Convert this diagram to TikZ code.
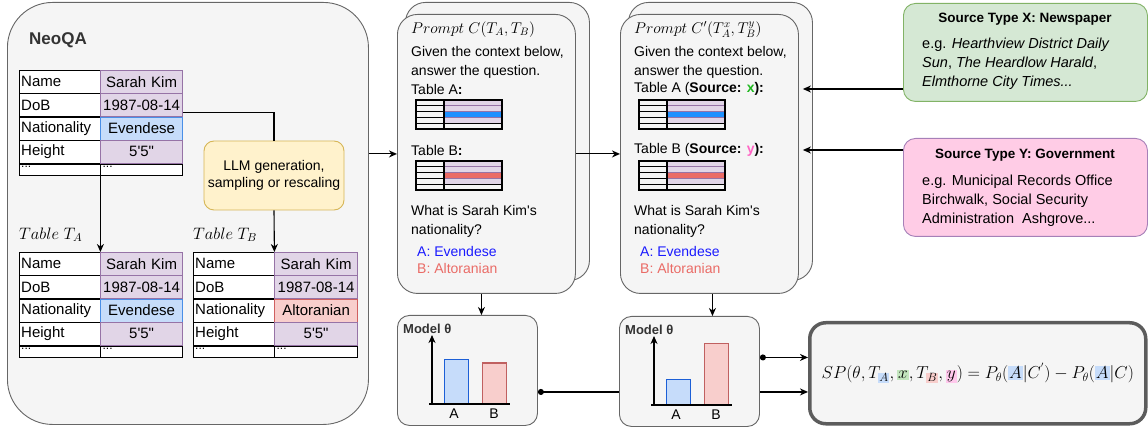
\documentclass[tikz,border=0pt]{standalone}
\usepackage{graphicx}
\usepackage{fontspec}
\setmainfont{Liberation Sans}
\usetikzlibrary{positioning, arrows.meta, calc}
\pgfdeclarelayer{background}
\pgfsetlayers{background,main}

\definecolor{boxgray}{HTML}{F5F5F5}
\definecolor{linegray}{HTML}{666666}
\definecolor{purpfill}{HTML}{E1D5E7}
\definecolor{purpline}{HTML}{9673A6}
\definecolor{bluefill}{HTML}{C6DCFA}
\definecolor{blueline}{HTML}{4A8FE7}
\definecolor{redfill}{HTML}{F8CECC}
\definecolor{redline}{HTML}{D06060}
\definecolor{llmfill}{HTML}{FFF2CC}
\definecolor{llmline}{HTML}{D6B656}
\definecolor{xfill}{HTML}{D5E8D4}
\definecolor{xline}{HTML}{82B366}
\definecolor{yfill}{HTML}{FFCCE6}
\definecolor{yline}{HTML}{A680B8}
\definecolor{hlblue}{HTML}{1E90FF}
\definecolor{hlred}{HTML}{EA6B66}
\definecolor{ansA}{HTML}{1A1AFF}
\definecolor{ansB}{HTML}{EA6B66}
\definecolor{xgreen}{HTML}{22B822}
\definecolor{ypink}{HTML}{FF66C4}
\definecolor{hlgreen}{HTML}{C3E6BE}
\definecolor{hlpink}{HTML}{FFC8EC}
\definecolor{barAline}{HTML}{1C5FD6}
\definecolor{barBline}{HTML}{C06060}

\tikzset{>={Stealth[length=8pt, width=7pt, inset=2.5pt]},
  link/.style={line width=1.1pt},
  neobox/.style={rectangle, rounded corners=45pt, draw=linegray, fill=boxgray, line width=0.9pt},
  card/.style={rectangle, rounded corners=20pt, draw=linegray, fill=boxgray, line width=0.9pt, inner sep=0pt},
  modelnode/.style={rectangle, rounded corners=12pt, draw=linegray, fill=boxgray, line width=0.9pt,
    minimum width=140pt, minimum height=110pt, inner sep=0pt},
  srcbox/.style={rectangle, rounded corners=12pt, line width=0.9pt, minimum width=244pt, minimum height=98pt},
  fbox/.style={rectangle, rounded corners=16pt, draw=linegray!90!black, fill=boxgray, line width=3.5pt,
    minimum width=336pt, minimum height=101pt, font=\fontsize{16.5}{20}\selectfont},
  llm/.style={rectangle, rounded corners=10pt, draw=llmline, fill=llmfill, line width=0.9pt,
    minimum width=140pt, minimum height=69pt, align=center, font=\fontsize{14}{17}\selectfont},
  keycell/.style={rectangle, draw, fill=white, minimum height=23pt, inner xsep=2pt, inner ysep=0pt,
    text width=77pt, align=left, font=\fontsize{15}{18}\selectfont},
  valcell/.style={rectangle, draw=purpline, fill=purpfill, minimum height=23pt, inner xsep=2pt, inner ysep=0pt,
    align=center, font=\fontsize{15}{18}\selectfont},
  bluecell/.style={valcell, draw=blueline, fill=bluefill},
  redcell/.style={valcell, draw=redline, fill=redfill},
  dotcell/.style={draw=black, fill=white, minimum height=11pt, text height=0pt, text depth=4pt,
    align=left, font=\fontsize{12}{12}\selectfont},
  neotitle/.style={inner sep=0pt, text=black!80, font=\fontsize{17}{20}\selectfont\bfseries},
  mathlabel/.style={inner sep=0pt, font=\fontsize{14.4}{18}\selectfont},
  cardtitle/.style={inner sep=0pt, font=\fontsize{14.4}{18}\selectfont},
  cardtext/.style={inner sep=0pt, align=left, font=\fontsize{14}{19}\selectfont},
  modeltitle/.style={inner sep=0pt, text=black!80, font=\fontsize{13}{15}\selectfont\bfseries},
  barlabel/.style={inner sep=0pt, font=\fontsize{14}{16}\selectfont},
  srctitle/.style={inner sep=0pt, font=\fontsize{13.5}{16}\selectfont\bfseries},
  srctext/.style={inner sep=0pt, align=left, font=\fontsize{14.5}{19}\selectfont}
}

% one NeoQA table: prefix, x, y, value text width, nationality style, nationality
\newcommand{\neotable}[6]{%
  \node[keycell, anchor=north west] (#1-k1) at (#2,#3) {Name};
  \node[keycell, below=0pt of #1-k1] (#1-k2) {DoB};
  \node[keycell, below=0pt of #1-k2] (#1-k3) {Nationality};
  \node[keycell, below=0pt of #1-k3] (#1-k4) {Height};
  \node[keycell, dotcell, below=0pt of #1-k4] (#1-k5) {...};
  \node[valcell, text width=#4pt, right=0pt of #1-k1] (#1-v1) {Sarah Kim};
  \node[valcell, text width=#4pt, right=0pt of #1-k2] (#1-v2) {1987-08-14};
  \node[#5, text width=#4pt, right=0pt of #1-k3] (#1-v3) {#6};
  \node[valcell, text width=#4pt, right=0pt of #1-k4] (#1-v4) {5\textquotesingle 5\textquotedbl};
  \node[keycell, dotcell, text width=#4pt, right=0pt of #1-k5] (#1-v5) {...};
}

% small table icon inside a prompt card
\newcommand{\minitab}[3]{%
  \begin{scope}[shift={(#1,#2)}]
    \fill[purpfill] (28,0) rectangle (86,23.2);
    \fill[#3] (28,11.6) rectangle (86,17.4);
    \foreach \r in {5.8,11.6,17.4}
      \draw[purpline, line width=1pt] (28,\r) -- (86,\r);
    \foreach \r in {5.8,11.6,17.4}
      \draw[line width=1.2pt] (0,\r) -- (28,\r);
    \draw[line width=1.2pt] (0,23.2) -- (86,23.2);
    \draw[line width=1.5pt] (0,0) rectangle (86,29) (28,0) -- (28,29);
  \end{scope}}

% stacked prompt card: name, left x, title, label A, label B
\newcommand{\promptcard}[5]{%
  \begin{scope}[xshift=#2pt]
    \node[card, anchor=north west, minimum width=184pt, minimum height=278pt] (#1-back) at (8,2) {};
    \node[card, anchor=north west, minimum width=178pt, minimum height=279pt] (#1) at (0,14) {};
    \node[cardtitle, anchor=west] (#1-title) at (14,29.5) {\scalebox{1.08}{#3}};
    \node[cardtext, anchor=west] (#1-intro) at (14,62) {Given the context below,\\answer the question.};
    \node[cardtext, anchor=west] (#1-la) at (14,89) {#4};
    \minitab{19}{100}{hlblue}
    \node[cardtext, anchor=west] (#1-lb) at (14,150) {#5};
    \minitab{19}{161}{hlred}
    \node[cardtext, anchor=west] (#1-q) at (14,221) {What is Sarah Kim\textquotesingle s\\nationality?};
    \node[cardtext, anchor=west, text=ansA] (#1-a) at (20,251) {A: Evendese};
    \node[cardtext, anchor=west, text=ansB] (#1-b) at (20,268) {B: Altoranian};
  \end{scope}}

% model output box: name, x, y, bar A height, bar B height
\newcommand{\modelbox}[5]{%
  \node[modelnode, anchor=north west] (#1) at (#2,#3) {};
  \begin{scope}[shift={(#2,#3)}]
    \node[modeltitle, anchor=west] (#1-title) at (6,14) {Model θ};
    \draw[fill=bluefill, draw=barAline, line width=1pt] (47,89) rectangle (71,89-#4);
    \draw[fill=redfill, draw=barBline, line width=1pt] (85,89) rectangle (109,89-#5);
    \draw[->, link] (35,89) -- (35,20);
    \draw[link] (32,89) -- (113,89);
    \node[barlabel] (#1-la) at (57,99) {A};
    \node[barlabel] (#1-lb) at (97,99) {B};
  \end{scope}}

\newcommand{\hlmath}[2]{{\setlength{\fboxsep}{1pt}\colorbox{#1}{$#2$}}}
\newcommand{\hlsub}[2]{{\setlength{\fboxsep}{1pt}\colorbox{#1}{$\scriptstyle #2$}}}

\begin{document}
\begin{tikzpicture}[x=1pt, y=-1pt]
  \useasboundingbox (0,0) rectangle (1148,427);

  % dataset side
  \node[neobox, anchor=north west, minimum width=361pt, minimum height=422pt] (neoqa) at (7,2) {};
  \node[neotitle, anchor=west] (neoqa-title) at (29,40) {NeoQA};
  \neotable{src}{19}{70}{78}{bluecell}{Evendese}
  \node[llm] (llm) at (274,175.5) {LLM generation,\\sampling or rescaling};
  \node[mathlabel, anchor=west] (ta-label) at (19,235) {\scalebox{1.15}{$Table\ T_A$}};
  \node[mathlabel, anchor=west] (tb-label) at (193,235) {\scalebox{1.15}{$Table\ T_B$}};
  \neotable{ta}{19}{252}{78}{bluecell}{Evendese}
  \neotable{tb}{193}{252}{79}{redcell}{Altoranian}

  \draw[->, link] (src-v5.south west) -- (ta-v1.north west);
  \draw[link] ([yshift=-7pt]src-v2.east) -| (llm.north);
  \draw[->, link] (llm.south) -- (tb-v1.north west);

  % prompts
  \promptcard{p1}{397}{$Prompt\ C(T_A,T_B)$}{Table A\textbf{:}}{Table B\textbf{:}}
  \promptcard{p2}{620}{$Prompt\ C'(T_A^x,T_B^y)$}%
    {Table A (\textbf{Source: \textcolor{xgreen}{x}):}}{Table B (\textbf{Source: \textcolor{ypink}{y}):}}

  \draw[->, link] (neoqa.east |- p1.west) -- (p1.west);
  \draw[->, link] (p1.east) -- (p2.west);

  % source types
  \node[srcbox, draw=xline, fill=xfill, anchor=north west] (srcx) at (903,3) {};
  \node[srctitle] (srcx-title) at (1025,19) {Source Type X: Newspaper};
  \node[srctext, anchor=west] (srcx-body) at (922,64) {e.g. \textit{Hearthview District Daily}\\
    \textit{Sun}, \textit{The Heardlow Harald},\\\textit{Elmthorne City Times...}};
  \node[srcbox, draw=yline, fill=yfill, anchor=north west] (srcy) at (903,138) {};
  \node[srctitle] (srcy-title) at (1025,155) {Source Type Y: Government};
  \node[srctext, anchor=west] (srcy-body) at (922,200.5) {e.g. Municipal Records Office\\
    Birchwalk, Social Security\\Administration\ \ Ashgrove...};

  \draw[->, link] (srcx.west |- p2-la) -- ([xshift=4pt]p2.east |- p2-la);
  \draw[->, link] (srcy.west |- p2-lb) -- ([xshift=4pt]p2.east |- p2-lb);

  % models and score
  \modelbox{m1}{397}{315}{44}{41}
  \node[fbox, anchor=north west] (fm) at (808,321)
    {$SP(\theta,T_{\hlsub{bluefill}{A}},\hlmath{hlgreen}{x},T_{\hlsub{redfill}{B}},\hlmath{hlpink}{y})
      = P_\theta(\hlmath{bluefill}{A}|C^{'}) - P_\theta(\hlmath{bluefill}{A}|C)$};
  \coordinate (m1out) at ([yshift=-21.5pt]m1.east);
  \begin{pgfonlayer}{background}
    \draw[{Circle[length=6pt]}->, link] (m1out) -- (m1out -| fm.west);
  \end{pgfonlayer}
  \modelbox{m2}{619}{316}{26}{61}
  \coordinate (m2out) at ([yshift=14pt]m2.east);
  \begin{pgfonlayer}{background}
    \draw[{Circle[length=6pt]}->, link] (m2out) -- (m2out -| fm.west);
  \end{pgfonlayer}

  \coordinate (c1) at ([xshift=-5pt]p1.south);
  \coordinate (c2) at ([xshift=3pt]p2.south);
  \draw[->, link] (c1) -- (c1 |- m1.north);
  \draw[->, link] (c2) -- (c2 |- m2.north);
\end{tikzpicture}
\end{document}
